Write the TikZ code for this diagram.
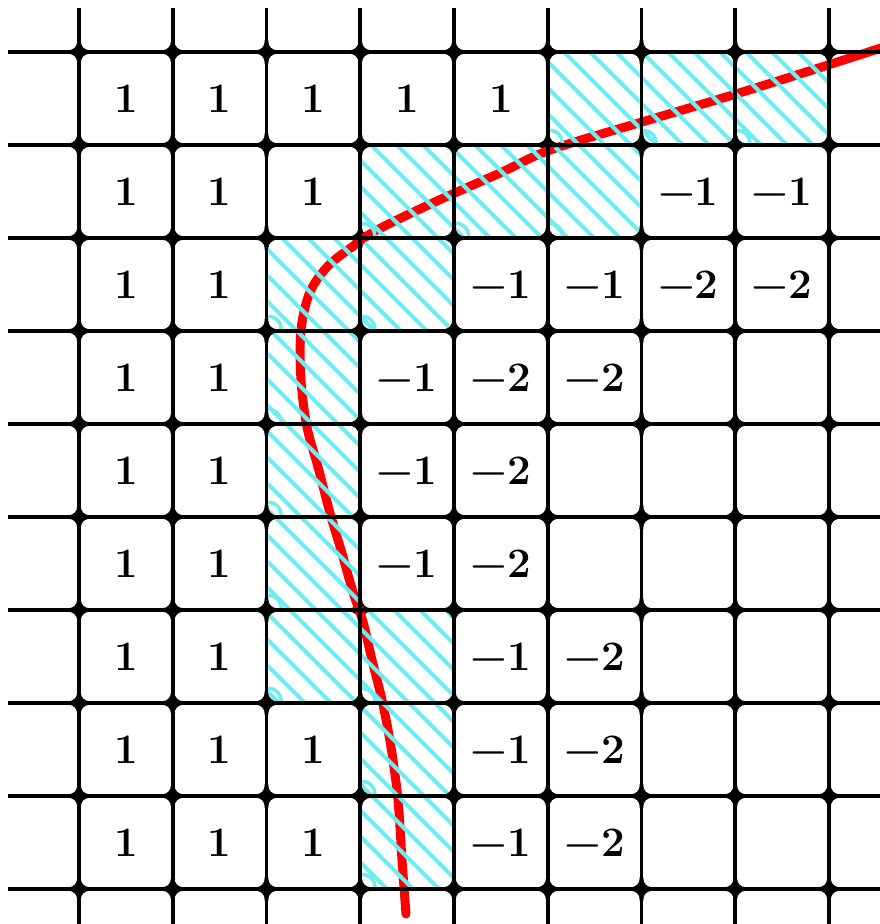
\documentclass[tikz,border=0pt]{standalone}
\definecolor{hatchcyan}{RGB}{110,236,240}
\definecolor{curvered}{RGB}{255,0,0}
\begin{document}
\begin{tikzpicture}[x=1pt,y=-1pt,
  gridline/.style={line width=3.6pt,draw=black},
  cellbox/.style={fill=white,rounded corners=9pt},
  hatchline/.style={draw=hatchcyan,line width=4pt},
  cornerarc/.style={draw=hatchcyan,line width=3.5pt},
  numlabel/.style={font=\fontsize{42}{42}\selectfont\bfseries,inner sep=0pt,text height=27pt,text depth=0pt},
  redcurve/.style={draw=curvered,line width=9pt,line cap=round,line join=round}
]
\useasboundingbox (0,0) rectangle (880,924);
\fill[white] (0,0) rectangle (880,924);
% fillets at intersections
\foreach \i in {0,...,8}{
  \foreach \j in {0,...,9}{
    \pgfmathsetmacro{\xx}{79+93.75*\i}
    \pgfmathsetmacro{\yy}{52+93*\j}
    \fill[black] (\xx-12,\yy-12) rectangle (\xx+12,\yy+12);
  }
}
% cells
\foreach \i in {-1,...,8}{
  \foreach \j in {-1,...,9}{
    \pgfmathsetmacro{\xl}{79+93.75*\i+1.8}
    \pgfmathsetmacro{\xr}{79+93.75*(\i+1)-1.8}
    \pgfmathsetmacro{\yt}{52+93*\j+1.8}
    \pgfmathsetmacro{\yb}{52+93*(\j+1)-1.8}
    \fill[cellbox] (\xl,\yt) rectangle (\xr,\yb);
  }
}
% red curve
\draw[redcurve] plot[smooth,tension=0.55] coordinates {(884,47) (825,66) (736,94) (642,122) (550,150) (500,173) (437,201) (377,230) (352,247) (328,266) (310,292) (301,330) (301,380) (307,427) (318,467) (330,513) (341,550) (353,592) (363,622) (372,660) (382,700) (391,747) (398,800) (402,860) (406,914)};
% hatched cells
\foreach \i/\j in {5/0,6/0,7/0,3/1,4/1,5/1,2/2,3/2,2/3,2/4,2/5,2/6,3/6,3/7,3/8}{
  \pgfmathsetmacro{\xl}{79+93.75*\i+1.8}
  \pgfmathsetmacro{\xr}{79+93.75*(\i+1)-1.8}
  \pgfmathsetmacro{\yt}{52+93*\j+1.8}
  \pgfmathsetmacro{\yb}{52+93*(\j+1)-1.8}
  \pgfmathtruncatemacro{\kmin}{floor((\yt-\xr)/26)-1}
  \pgfmathtruncatemacro{\kmax}{ceil((\yb-\xl)/26)+1}
  \begin{scope}
    \clip[rounded corners=9pt] (\xl,\yt) rectangle (\xr,\yb);
    \foreach \k in {\kmin,...,\kmax}{
      \draw[hatchline] (\xl-6,{\xl-6+26*\k+8}) -- (\xr+6,{\xr+6+26*\k+8});
    }
  \end{scope}
  \draw[cornerarc] (\xl,\yb-13) arc[start angle=-90,end angle=0,radius=13];
}
% grid lines
\foreach \i in {0,...,8}{
  \pgfmathsetmacro{\xx}{79+93.75*\i}
  \draw[gridline] (\xx,8) -- (\xx,924);
}
\foreach \j in {0,...,9}{
  \pgfmathsetmacro{\yy}{52+93*\j}
  \draw[gridline] (8,\yy) -- (880,\yy);
}
% numbers
\foreach \i/\j/\t in {0/0/1,1/0/1,2/0/1,3/0/1,4/0/1,
  0/1/1,1/1/1,2/1/1,6/1/\char"2212 1,7/1/\char"2212 1,
  0/2/1,1/2/1,4/2/\char"2212 1,5/2/\char"2212 1,6/2/\char"2212 2,7/2/\char"2212 2,
  0/3/1,1/3/1,3/3/\char"2212 1,4/3/\char"2212 2,5/3/\char"2212 2,
  0/4/1,1/4/1,3/4/\char"2212 1,4/4/\char"2212 2,
  0/5/1,1/5/1,3/5/\char"2212 1,4/5/\char"2212 2,
  0/6/1,1/6/1,4/6/\char"2212 1,5/6/\char"2212 2,
  0/7/1,1/7/1,2/7/1,4/7/\char"2212 1,5/7/\char"2212 2,
  0/8/1,1/8/1,2/8/1,4/8/\char"2212 1,5/8/\char"2212 2}{
  \node[numlabel] (n-\i-\j) at ({79+93.75*\i+46.875},{52+93*\j+46.5}) {\t};
}
\end{tikzpicture}
\end{document}
